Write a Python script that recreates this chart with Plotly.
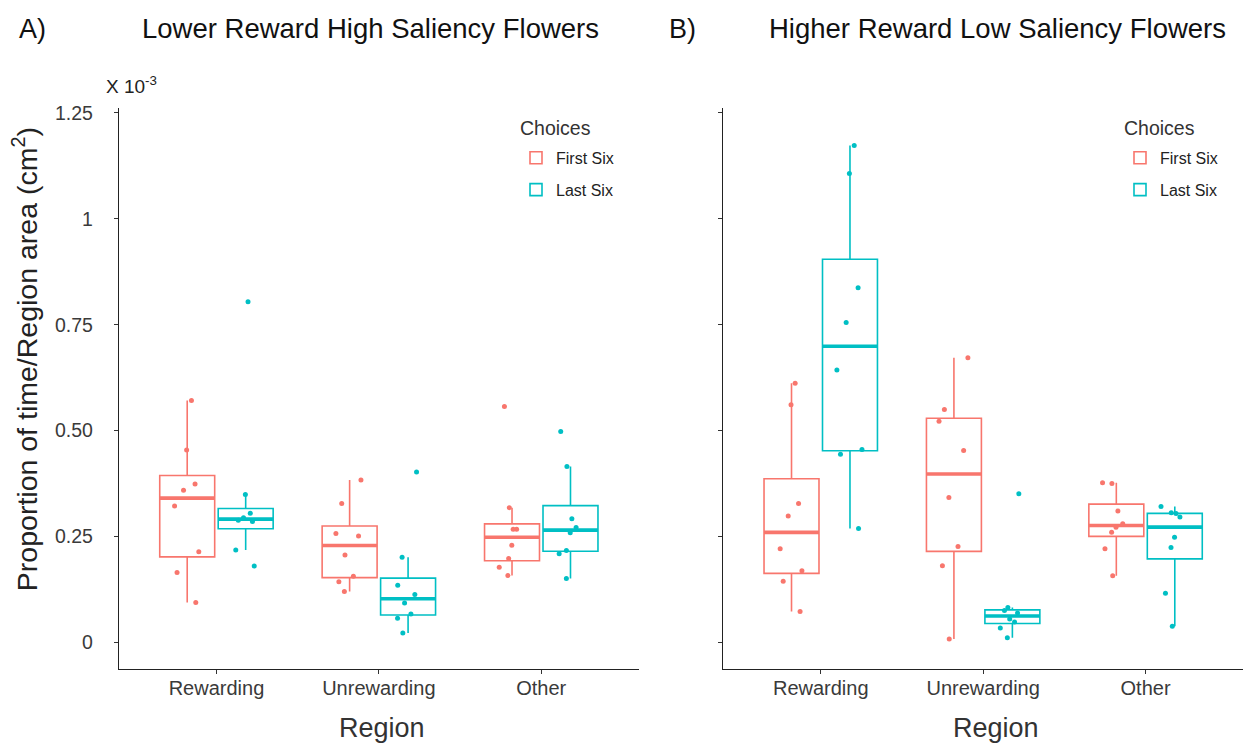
import numpy as np
import plotly.graph_objects as go

# ---------------- data (values in units of 1e-3) ----------------
regions = ["Rewarding", "Unrewarding", "Other"]
groups = ["First Six", "Last Six"]
colors = {"First Six": "#F8766D", "Last Six": "#00BFC4"}

# Panel A: Lower Reward High Saliency Flowers
a_first_rewarding = [0.571, 0.454, 0.374, 0.359, 0.322, 0.214, 0.165, 0.094]
a_first_unrewarding = [0.383, 0.328, 0.257, 0.251, 0.206, 0.156, 0.143, 0.120]
a_first_other = [0.557, 0.318, 0.267, 0.267, 0.229, 0.198, 0.177, 0.158]
a_last_rewarding = [0.804, 0.349, 0.305, 0.294, 0.288, 0.285, 0.218, 0.180]
a_last_unrewarding = [0.402, 0.201, 0.135, 0.113, 0.093, 0.067, 0.057, 0.022]
a_last_other = [0.498, 0.415, 0.292, 0.271, 0.259, 0.217, 0.209, 0.151]

# Panel B: Higher Reward Low Saliency Flowers
b_first_rewarding = [0.612, 0.561, 0.328, 0.298, 0.221, 0.169, 0.144, 0.073]
b_first_unrewarding = [0.672, 0.550, 0.522, 0.453, 0.342, 0.226, 0.181, 0.008]
b_first_other = [0.377, 0.375, 0.310, 0.280, 0.272, 0.260, 0.221, 0.157]
b_last_rewarding = [1.173, 1.107, 0.837, 0.755, 0.643, 0.455, 0.444, 0.269]
b_last_unrewarding = [0.351, 0.082, 0.075, 0.069, 0.055, 0.048, 0.034, 0.011]
b_last_other = [0.321, 0.306, 0.304, 0.296, 0.248, 0.224, 0.116, 0.038]

panels = {
    "A": {"First Six": [a_first_rewarding, a_first_unrewarding, a_first_other],
          "Last Six": [a_last_rewarding, a_last_unrewarding, a_last_other]},
    "B": {"First Six": [b_first_rewarding, b_first_unrewarding, b_first_other],
          "Last Six": [b_last_rewarding, b_last_unrewarding, b_last_other]},
}

ytick_vals = [0, 0.25, 0.5, 0.75, 1.0, 1.25]
ytick_text = ["0", "0.25", "0.50", "0.75", "1", "1.25"]

FONT = "Liberation Sans, Arial, sans-serif"


def ggstats(vals):
    v = np.sort(np.asarray(vals, dtype=float))
    q1, med, q3 = np.percentile(v, [25, 50, 75])
    iqr = q3 - q1
    lo = v[v >= q1 - 1.5 * iqr].min()
    hi = v[v <= q3 + 1.5 * iqr].max()
    return q1, med, q3, lo, hi


fig = go.Figure()
for pi, (pname, pdata) in enumerate(panels.items()):
    xa = "x" if pi == 0 else "x2"
    ya = "y" if pi == 0 else "y2"
    leg = "legend" if pi == 0 else "legend2"
    for g in groups:
        stats = [ggstats(v) for v in pdata[g]]
        q1 = [s[0] for s in stats]
        med = [s[1] for s in stats]
        q3 = [s[2] for s in stats]
        lo = [s[3] for s in stats]
        hi = [s[4] for s in stats]
        common = dict(xaxis=xa, yaxis=ya, alignmentgroup=pname, offsetgroup=g,
                      legendgroup=pname + g, legend=leg, hoverinfo="skip")
        # main box
        fig.add_trace(go.Box(
            x=regions, q1=q1, median=med, q3=q3, lowerfence=lo, upperfence=hi,
            name=g, showlegend=True, line=dict(color=colors[g], width=1.6),
            fillcolor="rgba(255,255,255,0)", whiskerwidth=0, boxpoints=False,
            **common))
        # thick median line
        fig.add_trace(go.Box(
            x=regions, q1=med, median=med, q3=med, lowerfence=med, upperfence=med,
            name=g, showlegend=False, line=dict(color=colors[g], width=3.6),
            fillcolor="rgba(255,255,255,0)", whiskerwidth=0, boxpoints=False,
            **common))
        # jittered raw points
        xs, ys = [], []
        for r, vals in zip(regions, pdata[g]):
            xs += [r] * len(vals)
            ys += list(vals)
        fig.add_trace(go.Box(
            x=xs, y=ys, name=g, showlegend=False, boxpoints="all", jitter=0.6,
            pointpos=0, line=dict(width=0), fillcolor="rgba(0,0,0,0)",
            marker=dict(color=colors[g], size=5, line=dict(width=0)),
            **common))

W, H = 1243, 747

def px(x):
    return x / W

def py(y):
    return 1 - y / H

axis_common = dict(
    showline=True, linecolor="#222", linewidth=1.4, ticks="outside",
    ticklen=4, tickcolor="#333", tickwidth=1, showgrid=False, zeroline=False,
    mirror=False,
)

legend_common = dict(
    xanchor="left", yanchor="top", bgcolor="rgba(0,0,0,0)", tracegroupgap=8,
    font=dict(size=16, color="#222"),
)

fig.update_layout(
    width=W, height=H, margin=dict(l=0, r=0, t=0, b=0),
    plot_bgcolor="white", paper_bgcolor="white",
    font=dict(family=FONT, color="#333"),
    boxmode="group", boxgap=0.28, boxgroupgap=0.06,
    xaxis=dict(domain=[px(119), px(638.7)], range=[-0.6, 2.6], type="category",
               categoryorder="array", categoryarray=regions, anchor="y",
               tickfont=dict(size=20, color="#3a3a3a"), ticklabelstandoff=-3,
               **axis_common),
    xaxis2=dict(domain=[px(723.3), 1.0], range=[-0.6, 2.6], type="category",
                categoryorder="array", categoryarray=regions, anchor="y2",
                tickfont=dict(size=20, color="#3a3a3a"), ticklabelstandoff=-3,
                **axis_common),
    yaxis=dict(domain=[py(668.3), py(103)], range=[-0.0628, 1.2612],
               tickvals=ytick_vals, ticktext=ytick_text, anchor="x",
               tickfont=dict(size=19.5, color="#3a3a3a"), ticklabelstandoff=17,
               **axis_common),
    yaxis2=dict(domain=[py(668.3), py(103)], range=[-0.0628, 1.2612],
                tickvals=ytick_vals, showticklabels=False, anchor="x2",
                **axis_common),
    legend=dict(x=px(516), y=py(136), **legend_common),
    legend2=dict(x=px(1120), y=py(136), **legend_common),
)

ann = [
    dict(text="A)", x=px(17), y=py(23), xanchor="left", yanchor="middle",
         font=dict(size=27, color="#111")),
    dict(text="Lower Reward High Saliency Flowers", x=px(370), y=py(23),
         xanchor="center", yanchor="middle", font=dict(size=27.5, color="#111")),
    dict(text="B)", x=px(667), y=py(23), xanchor="left", yanchor="middle",
         font=dict(size=27, color="#111")),
    dict(text="Higher Reward Low Saliency Flowers", x=px(997.5), y=py(23),
         xanchor="center", yanchor="middle", font=dict(size=27.5, color="#111")),
    dict(text="X 10<sup>-3</sup>", x=px(104), y=py(80), xanchor="left",
         yanchor="middle", font=dict(size=19, color="#222")),
    dict(text="Proportion of time/Region area (cm<sup>2</sup>)", x=px(25),
         y=py(356), xanchor="center", yanchor="middle", textangle=-90,
         font=dict(size=28.5, color="#222")),
    dict(text="Region", x=px(382), y=py(728), xanchor="center", yanchor="middle",
         font=dict(size=27, color="#333")),
    dict(text="Region", x=px(996), y=py(728), xanchor="center", yanchor="middle",
         font=dict(size=27, color="#333")),
    dict(text="Choices", x=px(518), y=py(123), xanchor="left", yanchor="middle",
         font=dict(size=19.5, color="#333")),
    dict(text="Choices", x=px(1122), y=py(123), xanchor="left", yanchor="middle",
         font=dict(size=19.5, color="#333")),
]
for a in ann:
    a.update(xref="paper", yref="paper", showarrow=False)
fig.update_layout(annotations=ann)

fig.write_html("out.html")
